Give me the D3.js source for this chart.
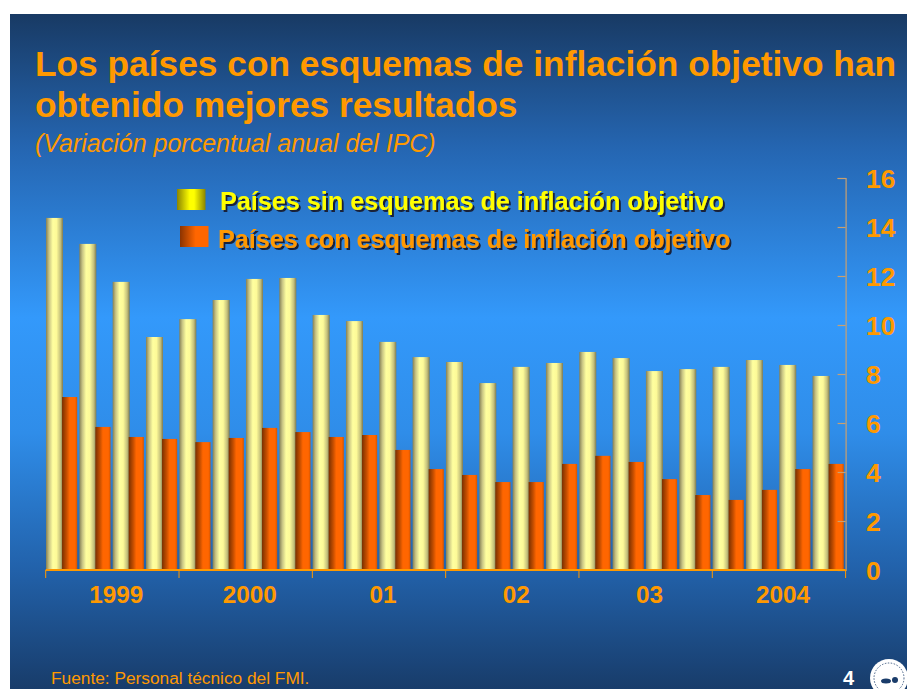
<!DOCTYPE html>
<html><head><meta charset="utf-8">
<script src="https://cdn.jsdelivr.net/npm/d3@7"></script>
<style>html,body{margin:0;padding:0;background:#fff;}svg{display:block;}</style>
</head><body>
<script>
const quarters = ["1999Q1","1999Q2","1999Q3","1999Q4","2000Q1","2000Q2","2000Q3","2000Q4","2001Q1","2001Q2","2001Q3","2001Q4","2002Q1","2002Q2","2002Q3","2002Q4","2003Q1","2003Q2","2003Q3","2003Q4","2004Q1","2004Q2","2004Q3","2004Q4"];
const sinIT = [14.37,13.31,11.76,9.51,10.24,11.02,11.88,11.92,10.41,10.16,9.31,8.69,8.49,7.63,8.29,8.45,8.90,8.65,8.12,8.20,8.29,8.57,8.37,7.92];
const conIT = [7.06,5.84,5.43,5.35,5.22,5.39,5.80,5.63,5.43,5.51,4.90,4.12,3.88,3.59,3.59,4.33,4.66,4.41,3.71,3.06,2.86,3.27,4.12,4.33];
const yearLabels = ["1999","2000","01","02","03","2004"];
const yTicks = [0,2,4,6,8,10,12,14,16];
const seriesNames = ["Países sin esquemas de inflación objetivo","Países con esquemas de inflación objetivo"];
const titleLines = ["Los países con esquemas de inflación objetivo han","obtenido mejores resultados"];
const subtitle = "(Variación porcentual anual del IPC)";
const source = "Fuente: Personal técnico del FMI.";
const pageNum = "4";

const W = 907, H = 689;
const svg = d3.select("body").append("svg").attr("width", W).attr("height", H);
const defs = svg.append("defs");
const FONT = "'Liberation Sans', Arial, sans-serif";
const ORANGE = "#ff9900";

// background gradient
const bg = defs.append("linearGradient").attr("id","bg").attr("x1",0).attr("y1",0).attr("x2",0).attr("y2",1);
[[0,"#183a64"],[0.2,"#2566b2"],[0.45,"#3399fb"],[0.62,"#2f8de9"],[0.82,"#2262ab"],[1,"#183c6a"]]
  .forEach(([o,c])=>bg.append("stop").attr("offset",o).attr("stop-color",c));
svg.append("rect").attr("x",10).attr("y",14).attr("width",W-10).attr("height",H-14).attr("fill","url(#bg)");

function hGrad(id, stops){
  const g = defs.append("linearGradient").attr("id",id).attr("x1",0).attr("y1",0).attr("x2",1).attr("y2",0);
  stops.forEach(([o,c])=>g.append("stop").attr("offset",o).attr("stop-color",c));
}
hGrad("gy", [[0,"#858055"],[0.18,"#c8c484"],[0.4,"#ffff9f"],[0.62,"#fdfa98"],[0.85,"#c4c07c"],[1,"#7f7a50"]]);
hGrad("go", [[0,"#7a3000"],[0.3,"#c44e00"],[0.5,"#ff6600"],[0.85,"#ff6600"],[1,"#d65500"]]);
hGrad("gly", [[0,"#8a8400"],[0.45,"#ffff00"],[0.6,"#ffff00"],[1,"#8a8400"]]);
hGrad("glo", [[0,"#8b3300"],[0.55,"#ff6600"],[1,"#ff6600"]]);

const shadow = defs.append("filter").attr("id","sh").attr("x","-5%").attr("y","-30%").attr("width","110%").attr("height","160%");
shadow.append("feDropShadow").attr("dx",2).attr("dy",2).attr("stdDeviation",0.4)
  .attr("flood-color","#15152a").attr("flood-opacity",0.9);

// scales
const x = d3.scaleBand().domain(quarters).range([45.7, 845.6]).padding(0);
const y = d3.scaleLinear().domain([0,16]).range([570, 178]);
const bw = x.bandwidth();

// bars
const g = svg.append("g");
g.selectAll("rect.sin").data(quarters).join("rect").attr("class","sin")
  .attr("x", d=>x(d)+0.3).attr("width", bw*0.51)
  .attr("y", (d,i)=>y(sinIT[i])).attr("height",(d,i)=>y(0)-y(sinIT[i]))
  .attr("fill","url(#gy)");
g.selectAll("rect.con").data(quarters).join("rect").attr("class","con")
  .attr("x", d=>x(d)+bw*0.49).attr("width", bw*0.455)
  .attr("y", (d,i)=>y(conIT[i])).attr("height",(d,i)=>y(0)-y(conIT[i]))
  .attr("fill","url(#go)");

// y axis (right)
const yAxis = svg.append("g").attr("transform","translate(845.6,0)")
  .call(d3.axisLeft(y).tickValues(yTicks).tickSize(8).tickFormat(""));
yAxis.select(".domain").attr("stroke","#c9a070").attr("stroke-width",1.2);
yAxis.selectAll(".tick line").attr("stroke","#c9a070").attr("stroke-width",1.2);
svg.append("g").selectAll("text").data(yTicks).join("text")
  .attr("x",866).attr("y",d=>y(d)).attr("dy","0.36em")
  .attr("font-family",FONT).attr("font-weight","bold").attr("font-size",26.5)
  .attr("fill",ORANGE).text(d=>d);

// x axis
const yearStarts = yearLabels.map((d,i)=>quarters[i*4]);
const xAxisG = svg.append("g").attr("transform","translate(0,570)");
xAxisG.append("line").attr("x1",x.range()[0]).attr("x2",x.range()[1]).attr("y1",0).attr("y2",0)
  .attr("stroke",ORANGE).attr("stroke-width",1.8);
xAxisG.selectAll("line.tk").data(yearStarts.concat([null])).join("line").attr("class","tk")
  .attr("x1",d=>d?x(d):x.range()[1]).attr("x2",d=>d?x(d):x.range()[1])
  .attr("y1",0).attr("y2",8).attr("stroke",ORANGE).attr("stroke-width",1);
xAxisG.selectAll("text").data(yearLabels).join("text")
  .attr("x",(d,i)=>x(yearStarts[i])+bw*2+4).attr("y",33)
  .attr("text-anchor","middle").attr("font-family",FONT).attr("font-weight","bold")
  .attr("font-size",24.3).attr("fill",ORANGE).text(d=>d);

// title
svg.append("g").selectAll("text").data(titleLines).join("text")
  .attr("x",35).attr("y",(d,i)=>76+i*41)
  .attr("font-family",FONT).attr("font-weight","bold").attr("font-size",35.3)
  .attr("fill",ORANGE).text(d=>d);
svg.append("text").attr("x",35).attr("y",152).attr("font-family",FONT).attr("font-style","italic")
  .attr("font-size",25).attr("fill",ORANGE).text(subtitle);

// legend
const legendColors = ["#ffff00", ORANGE];
const legendFills = ["url(#gly)","url(#glo)"];
const leg = svg.append("g");
const swX = [177,180], swY = [189,226], txX = [220,218], txY = [210,248];
seriesNames.forEach((s,i)=>{
  leg.append("rect").attr("x",swX[i]).attr("y",swY[i]).attr("width",28.5).attr("height",21).attr("fill",legendFills[i]);
  leg.append("text").attr("x",txX[i]).attr("y",txY[i]).attr("font-family",FONT).attr("font-weight","bold")
    .attr("font-size",25.2).attr("fill",legendColors[i]).attr("filter","url(#sh)").text(s);
});

// footer
svg.append("text").attr("x",51).attr("y",684).attr("font-family",FONT).attr("font-size",17.3)
  .attr("fill",ORANGE).text(source);
svg.append("text").attr("x",843).attr("y",685).attr("font-family",FONT).attr("font-weight","bold")
  .attr("font-size",20).attr("fill","#ffffff").text(pageNum);
// logo (seal)
const logo = svg.append("g").attr("transform","translate(889,678)");
logo.append("circle").attr("r",19).attr("fill","#ffffff");
logo.append("circle").attr("r",15).attr("fill","none").attr("stroke","#1a3c6a").attr("stroke-width",0.8).attr("stroke-dasharray","1.5,1.5");
logo.append("ellipse").attr("cx",-3).attr("cy",3).attr("rx",5).attr("ry",2.5).attr("fill","#1a3c6a");
logo.append("ellipse").attr("cx",6).attr("cy",2).attr("rx",3).attr("ry",3).attr("fill","#1a3c6a");
</script>
</body></html>
